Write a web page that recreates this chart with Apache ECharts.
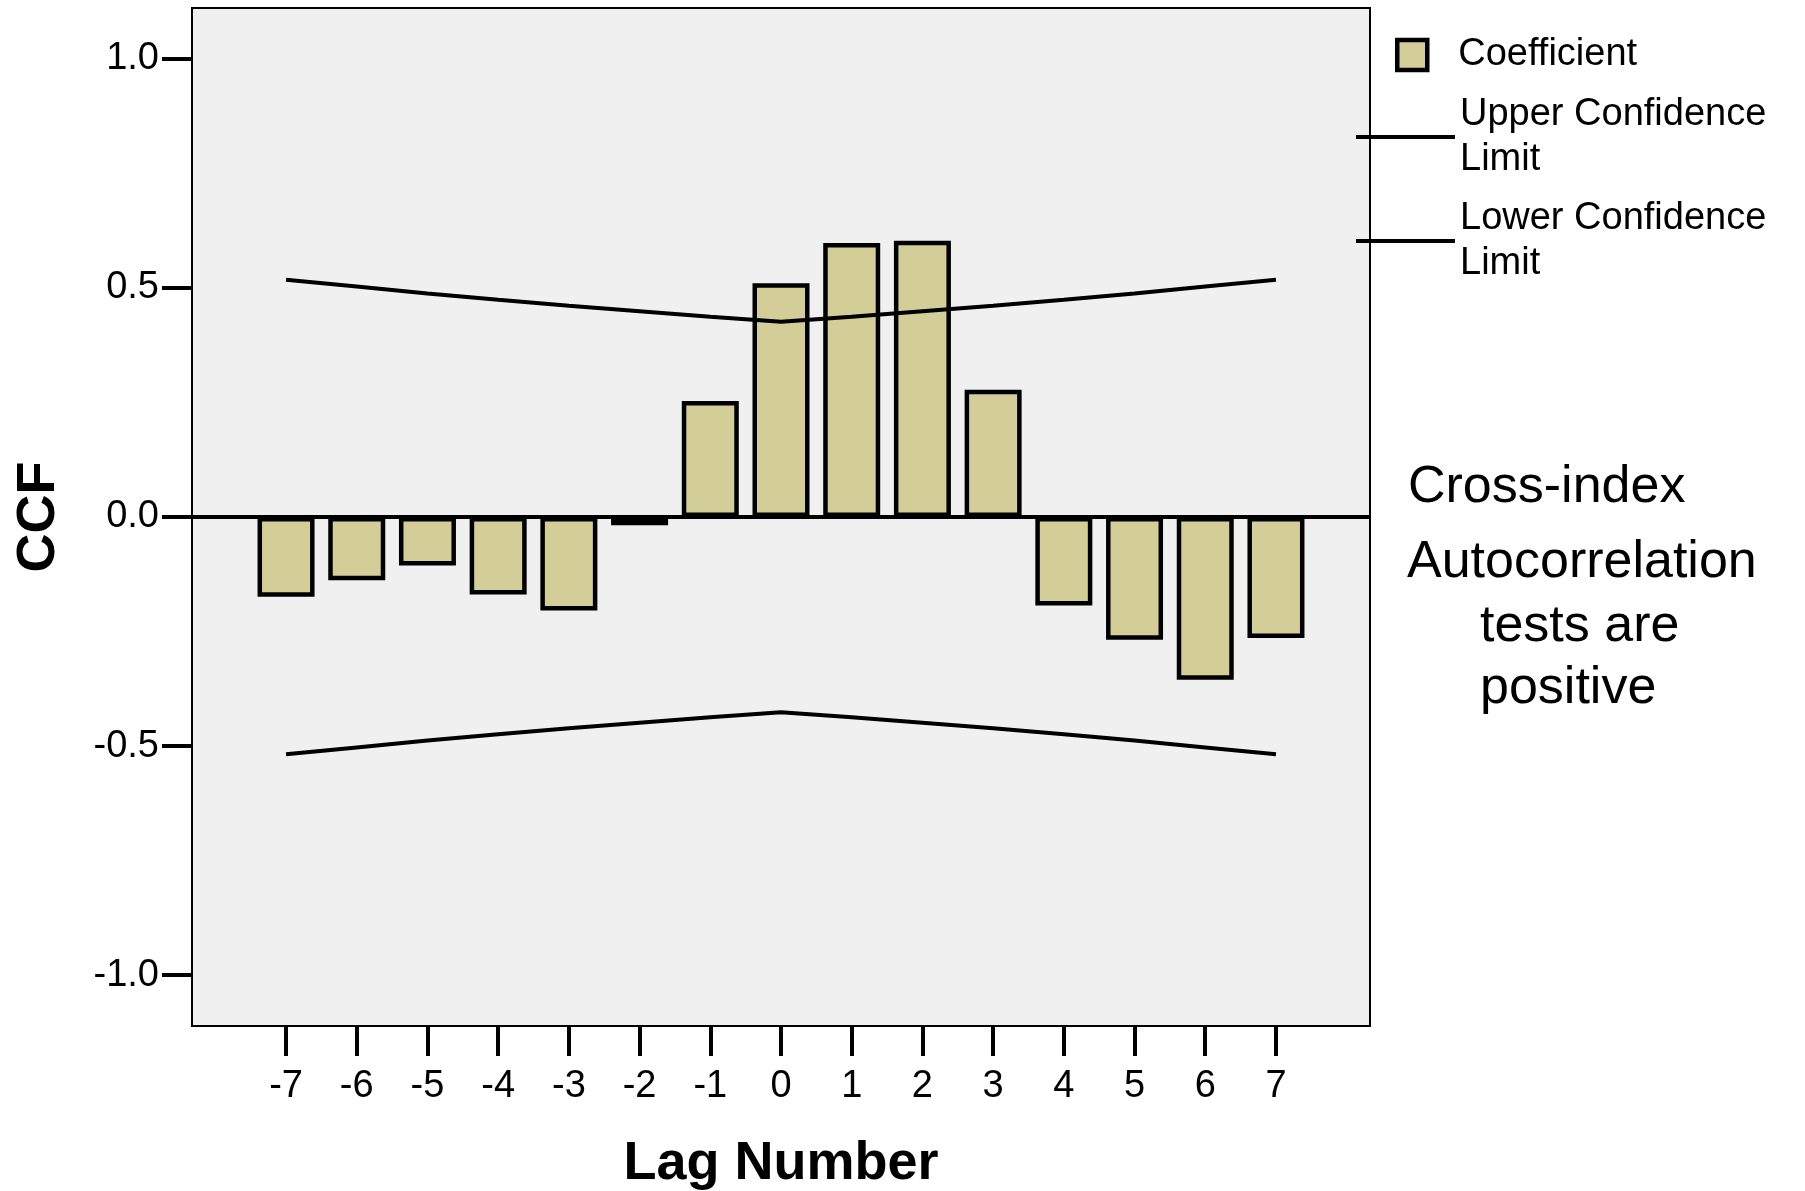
<!DOCTYPE html>
<html>
<head>
<meta charset="utf-8">
<script src="https://cdn.jsdelivr.net/npm/echarts@6/dist/echarts.min.js"></script>
<style>
  html, body { margin: 0; padding: 0; background: #ffffff; }
  #chart { width: 1805px; height: 1191px; }
</style>
</head>
<body>
<div id="chart"></div>
<script>
// ---- Data ----
var lags = [-7, -6, -5, -4, -3, -2, -1, 0, 1, 2, 3, 4, 5, 6, 7];
var coefficient = [-0.174, -0.138, -0.106, -0.169, -0.204, -0.018, 0.253, 0.510, 0.598, 0.603, 0.278, -0.193, -0.268, -0.355, -0.264];
var upperConfidenceLimit = [0.518, 0.503, 0.488, 0.474, 0.461, 0.449, 0.437, 0.426, 0.437, 0.449, 0.461, 0.474, 0.488, 0.503, 0.518];
var lowerConfidenceLimit = [-0.518, -0.503, -0.488, -0.474, -0.461, -0.449, -0.437, -0.426, -0.437, -0.449, -0.461, -0.474, -0.488, -0.503, -0.518];
var yTickValues = [-1.0, -0.5, 0.0, 0.5, 1.0];
var xTickValues = [-7, -6, -5, -4, -3, -2, -1, 0, 1, 2, 3, 4, 5, 6, 7];
var noteLines = ['Cross-index', 'Autocorrelation', 'tests are', 'positive'];

var FONT = '"Liberation Sans", Arial, Helvetica, sans-serif';

function pairs(xs, ys) {
  return xs.map(function (x, i) { return [x, ys[i]]; });
}

var chart = echarts.init(document.getElementById('chart'), null, { renderer: 'canvas' });

var option = {
  animation: false,
  backgroundColor: '#ffffff',
  textStyle: { fontFamily: FONT, color: '#000' },
  grid: {
    left: 192, top: 8, width: 1178, height: 1018,
    show: true, backgroundColor: '#f0f0f0', borderColor: '#000', borderWidth: 2,
    containLabel: false,
    outerBoundsMode: 'none'
  },
  legend: [
    {
      left: 1395, top: 36, padding: 0,
      itemWidth: 30, itemHeight: 30,
      data: [{ name: 'Coefficient', icon: 'rect' }],
      selectedMode: false,
      itemStyle: { color: '#d3ce97', borderColor: '#000', borderWidth: 4.5 },
      textStyle: { fontFamily: FONT, fontSize: 38, color: '#000', padding: [0, 0, 0, 26] }
    },
    {
      orient: 'vertical',
      left: 1356, top: 92, padding: 0,
      itemWidth: 99, itemHeight: 4, itemGap: 14,
      data: [
        { name: 'Upper Confidence Limit', icon: 'rect' },
        { name: 'Lower Confidence Limit', icon: 'rect' }
      ],
      selectedMode: false,
      formatter: function (name) { return name.replace(' Limit', '\nLimit'); },
      itemStyle: { color: '#000', borderWidth: 0 },
      textStyle: { fontFamily: FONT, fontSize: 38, lineHeight: 45, color: '#000' }
    }
  ],
  xAxis: {
    type: 'value',
    min: -8.33, max: 8.33,
    name: 'Lag Number',
    nameLocation: 'middle',
    nameGap: 111,
    nameTextStyle: { fontFamily: FONT, fontSize: 54, fontWeight: 'bold', color: '#000' },
    axisLine: { show: false, onZero: false },
    splitLine: { show: false },
    axisTick: {
      show: true, inside: false, length: 30,
      customValues: xTickValues,
      lineStyle: { color: '#000', width: 4 }
    },
    axisLabel: {
      show: true, margin: 42,
      customValues: xTickValues,
      fontFamily: FONT, fontSize: 38, color: '#000',
      formatter: function (v) { return String(v); }
    }
  },
  yAxis: {
    type: 'value',
    min: -1.111, max: 1.111,
    name: 'CCF',
    nameLocation: 'middle',
    nameGap: 126,
    nameRotate: 90,
    nameTextStyle: { fontFamily: FONT, fontSize: 54, fontWeight: 'bold', color: '#000' },
    axisLine: { show: false, onZero: false },
    splitLine: { show: false },
    axisTick: {
      show: true, inside: false, length: 30,
      customValues: yTickValues,
      lineStyle: { color: '#000', width: 4 }
    },
    axisLabel: {
      show: true, margin: 33,
      customValues: yTickValues,
      padding: [5, 0, 0, 0],
      fontFamily: FONT, fontSize: 38, color: '#000',
      formatter: function (v) { return Number(v).toFixed(1); }
    }
  },
  series: [
    {
      name: 'Coefficient',
      type: 'bar',
      barWidth: 57,
      data: pairs(lags, coefficient),
      itemStyle: { color: '#d3ce97', borderColor: '#000', borderWidth: 4.5 },
      markLine: {
        silent: true,
        symbol: 'none',
        label: { show: false },
        lineStyle: { color: '#000', width: 4, type: 'solid' },
        data: [{ yAxis: 0 }]
      }
    },
    {
      name: 'Upper Confidence Limit',
      type: 'line',
      symbol: 'none',
      data: pairs(lags, upperConfidenceLimit),
      lineStyle: { color: '#000', width: 4 },
      itemStyle: { color: '#000' }
    },
    {
      name: 'Lower Confidence Limit',
      type: 'line',
      symbol: 'none',
      data: pairs(lags, lowerConfidenceLimit),
      lineStyle: { color: '#000', width: 4 },
      itemStyle: { color: '#000' }
    }
  ],
  graphic: [
    { type: 'text', left: 1408, top: 462, style: { text: noteLines[0], fontFamily: FONT, fontSize: 52, fill: '#000' } },
    { type: 'text', left: 1407, top: 537, style: { text: noteLines[1], fontFamily: FONT, fontSize: 52, fill: '#000' } },
    { type: 'text', left: 1480, top: 601, style: { text: noteLines[2], fontFamily: FONT, fontSize: 52, fill: '#000' } },
    { type: 'text', left: 1480, top: 663, style: { text: noteLines[3], fontFamily: FONT, fontSize: 52, fill: '#000' } }
  ]
};

chart.setOption(option);
</script>
</body>
</html>
